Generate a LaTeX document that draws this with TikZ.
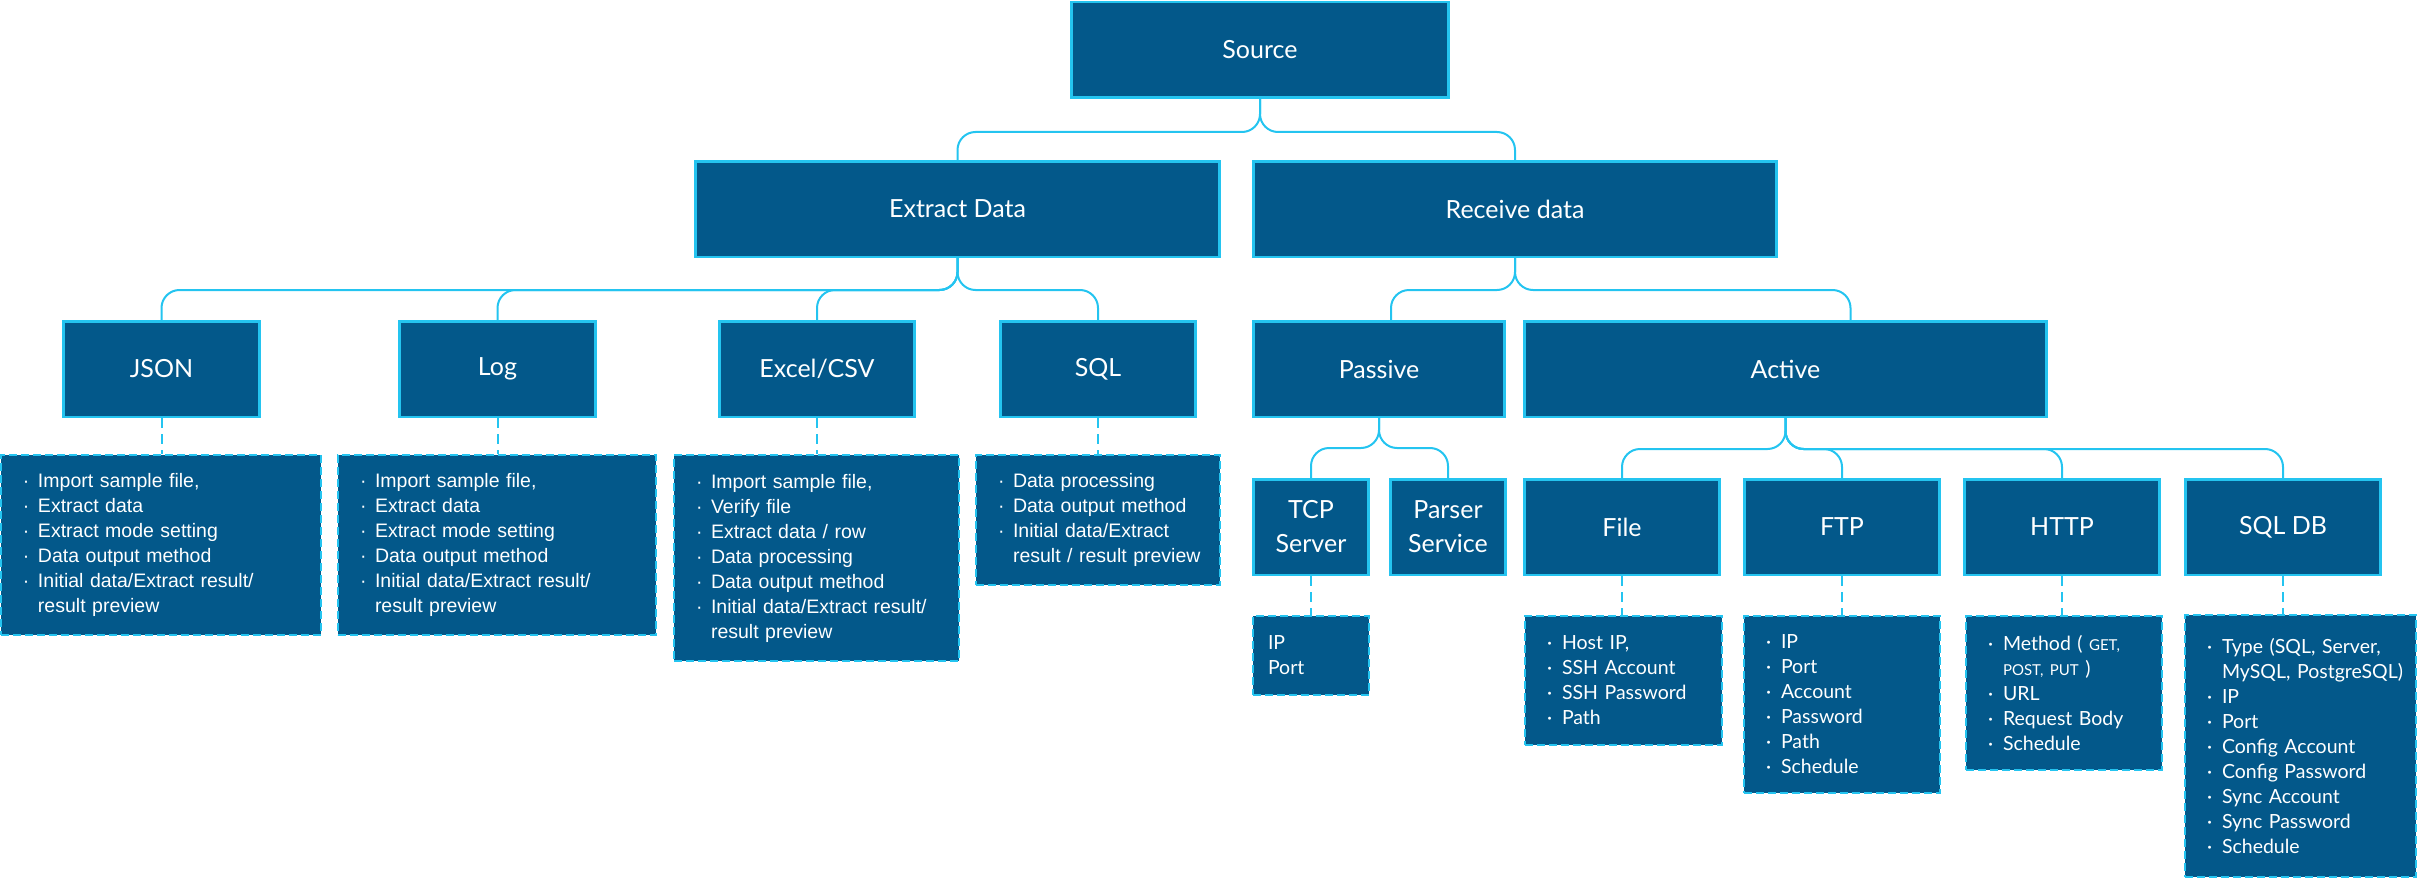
\documentclass[tikz,border=0pt]{standalone}
\usepackage{fontspec}
\setmainfont{Lato}
\newfontfamily\arialf{Liberation Sans}
\usetikzlibrary{calc}
\definecolor{boxblue}{RGB}{3,88,138}
\definecolor{edgecyan}{RGB}{36,196,240}
\newlength\dpad
\setlength\dpad{22pt}
% one bulleted line, a continuation line, and a plain line
\newcommand\dotline[1]{\mbox{\hspace*{\dpad}\makebox[15pt][l]{·}#1}}
\newcommand\contline[1]{\mbox{\hspace*{\dpad}\hspace*{15pt}#1}}
\newcommand\plainline[1]{\mbox{\hspace*{15pt}#1}}
\newcommand\smalltxt[1]{{\fontsize{15}{25}\selectfont #1}}
\begin{document}
\begin{tikzpicture}[x=1pt,y=-1pt,
  box/.style={draw=edgecyan, fill=boxblue, line width=2.5pt, text=white,
    font=\fontsize{25}{34}\selectfont, align=center, minimum height=95.5pt, inner sep=0pt},
  dbox/.style={draw=edgecyan, fill=boxblue, line width=2pt, dash pattern=on 8pt off 4pt,
    text=white, font=\fontsize{19.5}{25}\selectfont, align=left, anchor=north west,
    inner xsep=0pt, inner ysep=0pt},
  link/.style={draw=edgecyan, line width=2pt, rounded corners=18pt},
  dlink/.style={draw=edgecyan, line width=2pt, dash pattern=on 10pt off 6pt}]
\useasboundingbox (0,0) rectangle (2417,880);

% level 1 and 2
\node[box, minimum width=377] (source) at (1260,50) {Source};
\node[box, minimum width=524] (extract) at (957.5,209) {Extract Data};
\node[box, minimum width=523] (receive) at (1515,209) {Receive data};

% level 3
\node[box, minimum width=196] (json) at (161.5,369) {JSON};
\node[box, minimum width=196] (log) at (497.5,369) {Log};
\node[box, minimum width=195] (excel) at (817,369) {Excel/CSV};
\node[box, minimum width=195] (sql) at (1098,369) {SQL};
\node[box, minimum width=251] (passive) at (1379,369) {Passive};
\node[box, minimum width=522] (active) at (1785.5,369) {Active};

% level 4
\node[box, minimum width=115] (tcp) at (1311,527) {TCP\\Server};
\node[box, minimum width=115] (parser) at (1448,527) {Parser\\Service};
\node[box, minimum width=195] (file) at (1622,527) {File};
\node[box, minimum width=195] (ftp) at (1842,527) {FTP};
\node[box, minimum width=195] (http) at (2062,527) {HTTP};
\node[box, minimum width=195] (sqldb) at (2283,527) {SQL DB};

% detail boxes
\node[dbox, text width=320, minimum height=180, font=\arialf\fontsize{19.5}{25}\selectfont] (jsond) at (0,454) {%
  \dotline{Import sample file,}\\ \dotline{Extract data}\\ \dotline{Extract mode setting}\\
  \dotline{Data output method}\\ \dotline{Initial data/Extract result/}\\ \contline{result preview}};
\node[dbox, text width=318, minimum height=180, font=\arialf\fontsize{19.5}{25}\selectfont] (logd) at (337,454) {%
  \dotline{Import sample file,}\\ \dotline{Extract data}\\ \dotline{Extract mode setting}\\
  \dotline{Data output method}\\ \dotline{Initial data/Extract result/}\\ \contline{result preview}};
\node[dbox, text width=285, minimum height=206, font=\arialf\fontsize{19.5}{25}\selectfont] (exceld) at (673,454) {%
  \dotline{Import sample file,}\\ \dotline{Verify file}\\ \dotline{Extract data / row}\\
  \dotline{Data processing}\\ \dotline{Data output method}\\
  \dotline{Initial data/Extract result/}\\ \contline{result preview}};
\node[dbox, text width=244, minimum height=130, font=\arialf\fontsize{19.5}{25}\selectfont] (sqld) at (975,454) {%
  \dotline{Data processing}\\ \dotline{Data output method}\\
  \dotline{Initial data/Extract}\\ \contline{result / result preview}};
\node[dbox, text width=116, minimum height=79] (tcpd) at (1252,615) {%
  \plainline{IP}\\ \plainline{Port}};
\node[dbox, text width=197, minimum height=129] (filed) at (1524,615) {%
  \dotline{Host IP,}\\ \dotline{SSH Account}\\ \dotline{SSH Password}\\ \dotline{Path}};
\node[dbox, text width=196, minimum height=177] (ftpd) at (1743,615) {%
  \dotline{IP}\\ \dotline{Port}\\ \dotline{Account}\\ \dotline{Password}\\
  \dotline{Path}\\ \dotline{Schedule}};
\node[dbox, text width=196, minimum height=154] (httpd) at (1965,615) {%
  \dotline{Method ( \smalltxt{GET,}}\\ \contline{\smalltxt{POST, PUT} )}\\
  \dotline{URL}\\ \dotline{Request Body}\\ \dotline{Schedule}};
\node[dbox, text width=231, minimum height=262] (sqldbd) at (2184,614) {%
  \dotline{Type (SQL, Server,}\\ \contline{MySQL, PostgreSQL)}\\ \dotline{IP}\\
  \dotline{Port}\\ \dotline{Config Account}\\ \dotline{Config Password}\\
  \dotline{Sync Account}\\ \dotline{Sync Password}\\ \dotline{Schedule}};

% tree connectors
\draw[link] (source.south) -- ++(0,33) -| (extract.north);
\draw[link] (source.south) -- ++(0,33) -| (receive.north);
\draw[link] (extract.south) -- ++(0,32) -| (json.north);
\draw[link] (extract.south) -- ++(0,32) -| (log.north);
\draw[link] (extract.south) -- ++(0,32) -| (excel.north);
\draw[link] (extract.south) -- ++(0,32) -| (sql.north);
\draw[link] (receive.south) -- ++(0,32) -| ([xshift=12pt]passive.north);
\draw[link] (receive.south) -- ++(0,32) -| ([xshift=65pt]active.north);
\draw[link] (passive.south) -- ++(0,30) -| (tcp.north);
\draw[link] (passive.south) -- ++(0,30) -| (parser.north);
\draw[link] (active.south) -- ++(0,31) -| (file.north);
\draw[link] (active.south) -- ++(0,31) -| (ftp.north);
\draw[link] (active.south) -- ++(0,31) -| (http.north);
\draw[link] (active.south) -- ++(0,31) -| (sqldb.north);

% detail connectors
\draw[dlink] (json.south) -- (json.south |- jsond.north);
\draw[dlink] (log.south) -- (log.south |- logd.north);
\draw[dlink] (excel.south) -- (excel.south |- exceld.north);
\draw[dlink] (sql.south) -- (sql.south |- sqld.north);
\draw[dlink] (tcp.south) -- (tcp.south |- tcpd.north);
\draw[dlink] (file.south) -- (file.south |- filed.north);
\draw[dlink] (ftp.south) -- (ftp.south |- ftpd.north);
\draw[dlink] (http.south) -- (http.south |- httpd.north);
\draw[dlink] (sqldb.south) -- (sqldb.south |- sqldbd.north);
\end{tikzpicture}
\end{document}
